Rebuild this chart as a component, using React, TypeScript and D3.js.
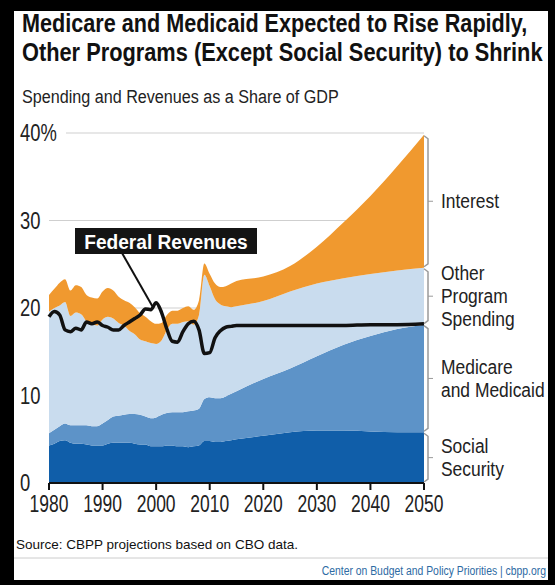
import React from 'react';
import * as d3 from 'd3';

// years: annual history, then 5-year projection points
const years = [
    1980, 1981, 1982, 1983, 1984, 1985, 1986, 1987, 1988, 1989,
    1990, 1991, 1992, 1993, 1994, 1995, 1996, 1997, 1998, 1999,
    2000, 2001, 2002, 2003, 2004, 2005, 2006, 2007, 2008, 2009,
    2010, 2011, 2012, 2013, 2014, 2015,
    2020, 2025, 2030, 2035, 2040, 2045, 2050,
];

// spending components, % of GDP
const socialSecurity = [
    4.3, 4.5, 4.8, 4.9, 4.6, 4.5, 4.5, 4.4, 4.3, 4.3,
    4.3, 4.5, 4.6, 4.6, 4.6, 4.6, 4.5, 4.4, 4.4, 4.2,
    4.2, 4.2, 4.3, 4.3, 4.2, 4.2, 4.1, 4.2, 4.3, 4.8,
    4.8, 4.7, 4.7, 4.8, 4.9, 5.0,
    5.4, 5.8, 6.0, 6.0, 5.9, 5.8, 5.8,
];
const medicareMedicaid = [
    1.4, 1.6, 1.7, 1.9, 2.0, 2.1, 2.1, 2.2, 2.2, 2.2,
    2.5, 2.7, 3.0, 3.1, 3.2, 3.3, 3.4, 3.4, 3.2, 3.2,
    3.3, 3.6, 3.7, 3.8, 3.9, 3.9, 4.1, 4.1, 4.2, 4.8,
    5.0, 5.0, 5.0, 5.1, 5.3, 5.5,
    6.5, 7.3, 8.5, 9.8, 10.9, 11.8, 12.3,
];
const otherPrograms = [
    13.9, 13.9, 13.8, 13.9, 12.5, 12.9, 12.7, 11.9, 11.7, 11.5,
    11.9, 11.8, 11.2, 10.6, 10.2, 9.5, 9.1, 8.6, 8.6, 8.6,
    8.4, 8.5, 9.5, 10.1, 10.1, 10.3, 10.3, 9.8, 10.7, 14.2,
    12.7, 11.3, 10.7, 10.3, 9.9, 9.7,
    8.9, 8.8, 8.3, 7.6, 7.1, 6.7, 6.5,
];
const interest = [
    1.9, 2.2, 2.6, 2.6, 2.9, 3.1, 3.1, 3.0, 3.0, 3.1,
    3.2, 3.3, 3.2, 3.0, 2.9, 3.2, 3.1, 3.0, 2.8, 2.5,
    2.3, 2.0, 1.7, 1.5, 1.5, 1.6, 1.7, 1.7, 1.7, 1.3,
    1.4, 1.8, 2.0, 2.3, 2.7, 2.9,
    2.8, 2.9, 4.2, 6.4, 8.9, 11.9, 15.2,
];
const revenues = [
    19.0, 19.6, 19.2, 17.5, 17.3, 17.7, 17.5, 18.4, 18.2, 18.4,
    18.0, 17.8, 17.5, 17.5, 18.0, 18.4, 18.8, 19.2, 19.9, 19.8,
    20.6, 19.5, 17.6, 16.2, 16.1, 17.3, 18.2, 18.5, 17.5, 14.8,
    14.9, 16.6, 17.4, 17.8, 17.9, 18.0,
    18.0, 18.0, 18.0, 18.0, 18.1, 18.1, 18.2,
];

const seriesKeys = ['socialSecurity', 'medicareMedicaid', 'otherPrograms', 'interest'];
const seriesColors = ['#105ea9', '#5d93c8', '#c9dcee', '#f0992f'];
const seriesLabels = [['Social', 'Security'], ['Medicare', 'and Medicaid'], ['Other', 'Program', 'Spending'], ['Interest']];

const xTicks = [1980, 1990, 2000, 2010, 2020, 2030, 2040, 2050];
const yTicks = [0, 10, 20, 30, 40];
const yTickLabels = ['0', '10', '20', '30', '40%'];

const font = "'Liberation Sans', Arial, sans-serif";

// no narrow font installed, so squeeze the regular one horizontally
const CText: React.FC<{
    x: number; y: number; size: number; sx?: number; weight?: number;
    anchor?: 'start' | 'middle' | 'end'; fill?: string; children: React.ReactNode;
}> = ({ x, y, size, sx = 0.8, weight = 400, anchor = 'start', fill = '#222', children }) => (
    <text
        transform={`translate(${x},${y}) scale(${sx},1)`}
        fontFamily={font}
        fontSize={size}
        fontWeight={weight}
        textAnchor={anchor}
        fill={fill}
    >
        {children}
    </text>
);

const App: React.FC = () => {
    const width = 555;
    const height = 585;
    const left = 49, right = 424, top = 133, bottom = 483;

    const x = d3.scaleLinear().domain([1980, 2050]).range([left, right]);
    const y = d3.scaleLinear().domain([0, 40]).range([bottom, top]);

    const rows = years.map((yr, i) => ({
        year: yr,
        socialSecurity: socialSecurity[i],
        medicareMedicaid: medicareMedicaid[i],
        otherPrograms: otherPrograms[i],
        interest: interest[i],
    }));
    const stacked = d3.stack<any>().keys(seriesKeys)(rows);

    const area = d3.area<any>()
        .x((d) => x(d.data.year))
        .y0((d) => y(d[0]))
        .y1((d) => y(d[1]))
        .curve(d3.curveMonotoneX);

    const revLine = d3.line<number>()
        .x((_d, i) => x(years[i]))
        .y((d) => y(d))
        .curve(d3.curveMonotoneX);

    const last = years.length - 1;
    const bx = right + 4;

    return (
        <div style={{ position: 'absolute', left: 0, top: 0 }}>
            <svg width={width} height={height} style={{ display: 'block' }}>
                <rect x={0} y={0} width={width} height={height} fill="#000" />
                <rect x={14} y={11} width={534} height={569} fill="#fff" />

                <CText x={22} y={32} size={25} weight={700} sx={0.865} fill="#111">
                    Medicare and Medicaid Expected to Rise Rapidly,
                </CText>
                <CText x={22} y={61} size={25} weight={700} sx={0.872} fill="#111">
                    Other Programs (Except Social Security) to Shrink
                </CText>
                <CText x={22} y={103} size={19} sx={0.85}>
                    Spending and Revenues as a Share of GDP
                </CText>

                {/* gridlines */}
                {yTicks.filter((t) => t > 0).map((t) => (
                    <line key={t} x1={t === 40 ? 66 : left} x2={right} y1={y(t)} y2={y(t)} stroke="#cfcfcf" strokeWidth={1} />
                ))}

                {/* stacked areas */}
                {stacked.map((s, i) => (
                    <path key={s.key} d={area(s) || ''} fill={seriesColors[i]} />
                ))}

                {/* federal revenues */}
                <path d={revLine(revenues) || ''} fill="none" stroke="#111" strokeWidth={3.5} strokeLinejoin="round" />

                {/* x axis */}
                <line x1={left} x2={right} y1={bottom} y2={bottom} stroke="#111" strokeWidth={2} />
                {xTicks.map((t) => (
                    <g key={t}>
                        <line x1={x(t)} x2={x(t)} y1={bottom} y2={bottom + 7} stroke="#111" strokeWidth={2} />
                        <CText x={x(t)} y={512} size={23} sx={0.76} anchor="middle">{t}</CText>
                    </g>
                ))}

                {/* y labels */}
                {yTicks.map((t, i) => (
                    <CText key={t} x={20} y={y(t) + 8} size={23} sx={0.8}>{yTickLabels[i]}</CText>
                ))}

                {/* right-hand brackets and labels */}
                {stacked.map((s, i) => {
                    const d = s[last];
                    const y0 = y(d[0]);
                    const y1 = y(d[1]);
                    const mid = (y0 + y1) / 2;
                    const lines = seriesLabels[i];
                    const lh = 23;
                    return (
                        <g key={s.key}>
                            <path
                                d={`M${right},${y1 + 1} L${bx},${y1 + 4} L${bx},${y0 - 4} L${right},${y0 - 1}`}
                                fill="none"
                                stroke="#9a9a9a"
                                strokeWidth={1.5}
                            />
                            <line x1={bx} x2={bx + 5} y1={mid} y2={mid} stroke="#9a9a9a" strokeWidth={1} />
                            {lines.map((ln, j) => (
                                <CText
                                    key={ln}
                                    x={441}
                                    y={mid + (j - (lines.length - 1) / 2) * lh + 7}
                                    size={21}
                                    sx={0.83}
                                >
                                    {ln}
                                </CText>
                            ))}
                        </g>
                    );
                })}

                {/* Federal Revenues callout */}
                <line x1={122} y1={253} x2={x(1999.3)} y2={y(20.2)} stroke="#111" strokeWidth={2} />
                <rect x={75} y={228} width={182} height={26} fill="#141414" />
                <CText x={166} y={249} size={21} weight={700} sx={0.91} anchor="middle" fill="#fff">
                    Federal Revenues
                </CText>

                {/* footer */}
                <CText x={16} y={549} size={13.5} sx={1.0} fill="#111">
                    Source: CBPP projections based on CBO data.
                </CText>
                <line x1={14} x2={548} y1={558} y2={558} stroke="#cccccc" strokeWidth={1} />
                <CText x={546} y={575} size={13.5} sx={0.77} anchor="end" fill="#2d6aa3">
                    Center on Budget and Policy Priorities | cbpp.org
                </CText>
            </svg>
        </div>
    );
};

export default App;
